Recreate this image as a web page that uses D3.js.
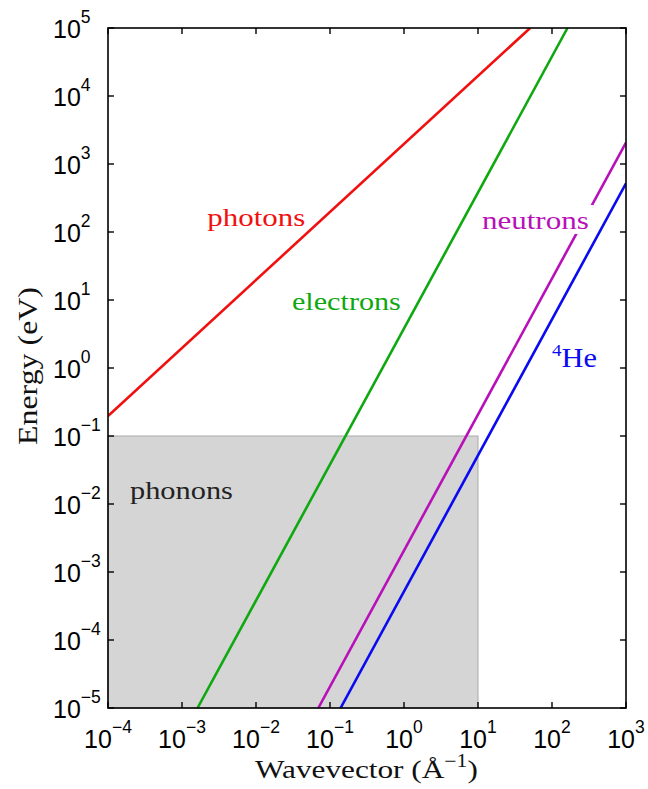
<!DOCTYPE html>
<html><head><meta charset="utf-8">
<script src="https://cdn.jsdelivr.net/npm/d3@7"></script>
<style>
html,body{margin:0;padding:0;background:#fff;}
svg{display:block;}
</style></head>
<body>
<svg id="chart" width="648" height="789"></svg>
<script>
// ---------- data ----------
const xTickExps = [-4, -3, -2, -1, 0, 1, 2, 3];
const yTickExps = [5, 4, 3, 2, 1, 0, -1, -2, -3, -4, -5];
const seriesNames = ["photons", "electrons", "neutrons", "4He"];
const seriesColors = ["#f01010", "#10a810", "#b810b8", "#0a0af0"];
// endpoints (wavevector in Å^-1, energy in eV) (straight lines in log-log)
const photonsK = [1e-4, 50.7];    const photonsE = [0.197, 1e5];
const electronsK = [1.62e-3, 162]; const electronsE = [1e-5, 1e5];
const neutronsK = [0.0695, 1000];  const neutronsE = [1e-5, 2070];
const heliumK = [0.139, 1000];     const heliumE = [1e-5, 520];
// phonon region
const phononK = [1e-4, 10];
const phononE = [1e-5, 0.1];
// label anchors (data coordinates)
const labelK = [2.2e-3, 0.0306, 11.3, 100];
const labelE = [123, 7.1, 111, 1.03];
const phononLabelK = 1.98e-4, phononLabelE = 0.0119;

// ---------- layout ----------
const svg = d3.select("#chart");
const L = 108, R = 626, T = 28, B = 708;
const x = d3.scaleLog().domain([1e-4, 1e3]).range([L, R]);
const y = d3.scaleLog().domain([1e-5, 1e5]).range([B, T]);
const serif = "'Liberation Serif','Times New Roman',serif";
const sans = "'Liberation Sans',Arial,Helvetica,sans-serif";

svg.append("defs").append("clipPath").attr("id", "clip")
  .append("rect").attr("x", L).attr("y", T).attr("width", R - L).attr("height", B - T);

// phonon rectangle
svg.append("rect")
  .attr("x", x(phononK[0])).attr("y", y(phononE[1]))
  .attr("width", x(phononK[1]) - x(phononK[0]))
  .attr("height", y(phononE[0]) - y(phononE[1]))
  .attr("fill", "#d5d5d5").attr("stroke", "#a9a9a9").attr("stroke-width", 1);

const series = [
  {K: photonsK, E: photonsE},
  {K: electronsK, E: electronsE},
  {K: neutronsK, E: neutronsE},
  {K: heliumK, E: heliumE}
];
const line = d3.line().x(d => x(d[0])).y(d => y(d[1]));
const g = svg.append("g").attr("clip-path", "url(#clip)");
series.forEach((s, i) => {
  g.append("path")
    .datum(s.K.map((k, j) => [k, s.E[j]]))
    .attr("d", line)
    .attr("fill", "none")
    .attr("stroke", seriesColors[i])
    .attr("stroke-width", 2.6);
});

function fitWidth(sel, target, ax, ay) {
  const w = sel.node().getBBox().width;
  const s = target / w;
  sel.attr("transform", `translate(${ax},${ay}) scale(${s},1) translate(${-ax},${-ay})`);
}

// series labels
const targetW = [98, 109, 107, 45];
seriesNames.forEach((name, i) => {
  const lx = x(labelK[i]), ly = y(labelE[i]);
  if (name === "neutrons") {
    svg.append("rect").attr("x", lx - 2).attr("y", ly - 24)
      .attr("width", targetW[i] + 6).attr("height", 29).attr("fill", "#fff");
  }
  const t = svg.append("text").attr("x", lx).attr("y", ly)
    .attr("font-family", serif).attr("font-size", 26)
    .attr("fill", seriesColors[i]);
  if (name === "4He") {
    t.append("tspan").attr("font-size", 17).attr("dy", -11).text("4");
    t.append("tspan").attr("dy", 11).attr("font-size", 27).text("He");
  } else {
    t.text(name);
  }
  fitWidth(t, targetW[i], lx, ly);
});

// phonon label
const pt = svg.append("text").attr("x", x(phononLabelK)).attr("y", y(phononLabelE))
  .attr("font-family", serif).attr("font-size", 26).attr("fill", "#222").text("phonons");
fitWidth(pt, 103, x(phononLabelK), y(phononLabelE));

// frame
svg.append("rect").attr("x", L).attr("y", T).attr("width", R - L).attr("height", B - T)
  .attr("fill", "none").attr("stroke", "#000").attr("stroke-width", 1.6);

// ticks (inward, all four sides)
const tk = 6;
xTickExps.forEach(e => {
  const px = x(Math.pow(10, e));
  svg.append("line").attr("x1", px).attr("x2", px).attr("y1", B).attr("y2", B - tk).attr("stroke", "#000").attr("stroke-width", 1.4);
  svg.append("line").attr("x1", px).attr("x2", px).attr("y1", T).attr("y2", T + tk).attr("stroke", "#000").attr("stroke-width", 1.4);
});
yTickExps.forEach(e => {
  const py = y(Math.pow(10, e));
  svg.append("line").attr("x1", L).attr("x2", L + tk).attr("y1", py).attr("y2", py).attr("stroke", "#000").attr("stroke-width", 1.4);
  svg.append("line").attr("x1", R).attr("x2", R - tk).attr("y1", py).attr("y2", py).attr("stroke", "#000").attr("stroke-width", 1.4);
});

function expText(e) { return e < 0 ? "\u2212" + Math.abs(e) : String(e); }

// x tick labels
xTickExps.forEach(e => {
  const px = x(Math.pow(10, e));
  const t = svg.append("text").attr("x", px).attr("y", 748)
    .attr("font-family", sans).attr("font-size", 25).attr("fill", "#000")
    .attr("text-anchor", "middle");
  t.append("tspan").text("10");
  t.append("tspan").attr("font-size", 17.5).attr("dy", -15).text(expText(e));
});
// y tick labels
yTickExps.forEach(e => {
  const py = y(Math.pow(10, e));
  const t = svg.append("text").attr("x", 53).attr("y", py + 10)
    .attr("font-family", sans).attr("font-size", 25).attr("fill", "#000");
  t.append("tspan").text("10");
  t.append("tspan").attr("font-size", 17.5).attr("dy", -15).text(expText(e));
});

// axis titles
const xt = svg.append("text").attr("x", 255).attr("y", 778)
  .attr("font-family", serif).attr("font-size", 26).attr("fill", "#111");
xt.append("tspan").text("Wavevector (\u00C5");
xt.append("tspan").attr("font-size", 18).attr("dy", -11).text("\u22121");
xt.append("tspan").attr("dy", 11).text(")");
fitWidth(xt, 223, 255, 778);

const ytG = svg.append("g").attr("transform", "translate(37,445) rotate(-90)");
const yt = ytG.append("text").attr("x", 0).attr("y", 0)
  .attr("font-family", serif).attr("font-size", 27).attr("fill", "#111")
  .text("Energy (eV)");
fitWidth(yt, 158, 0, 0);
</script>
</body></html>
